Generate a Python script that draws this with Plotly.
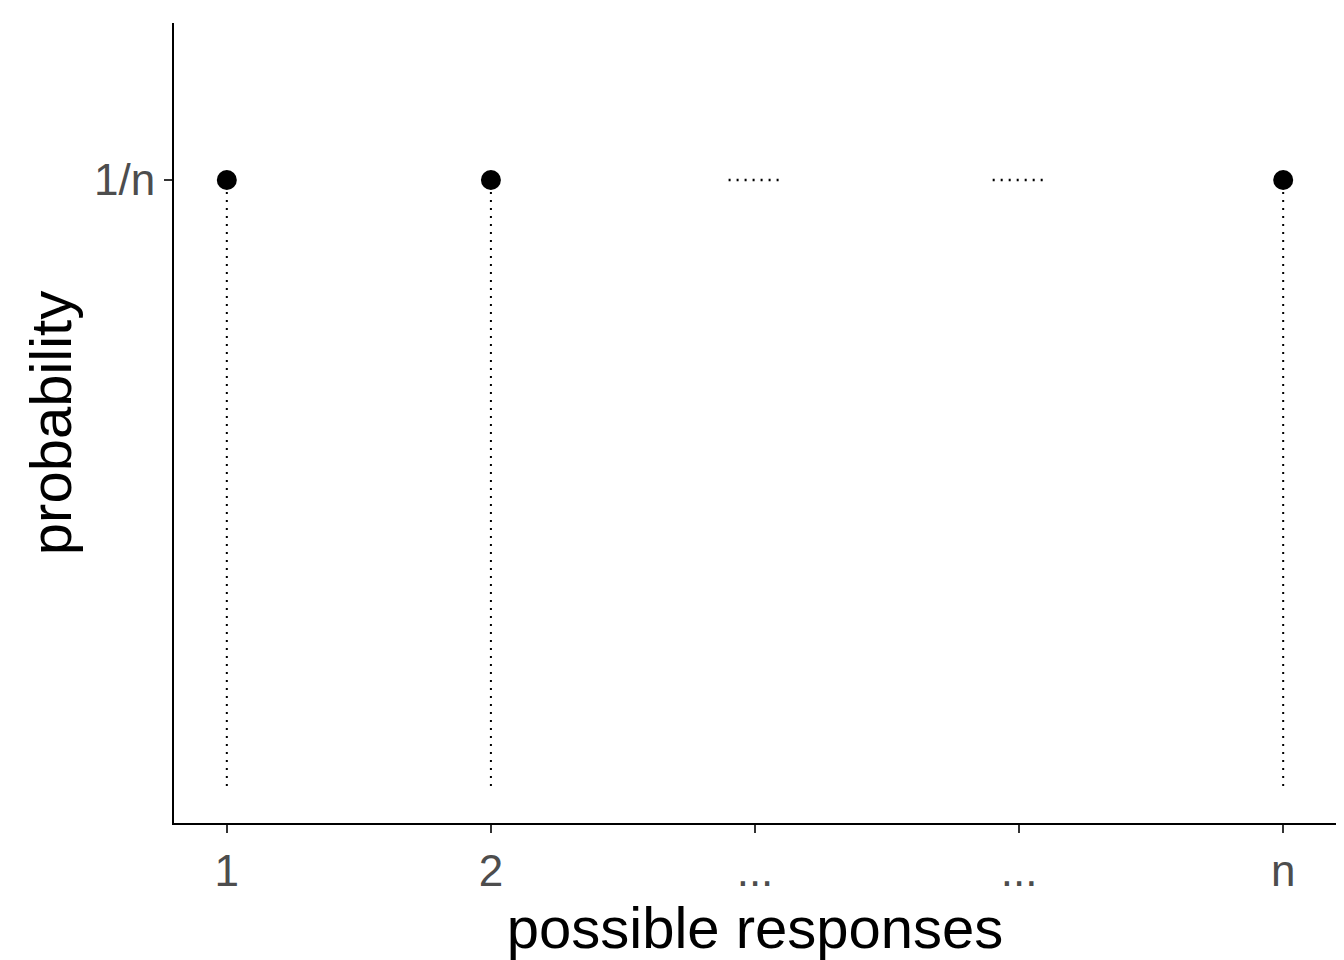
import plotly.graph_objects as go

x_pos = [1, 2, 3, 4, 5]
tick_labels = ["1", "2", "...", "...", "n"]
point_x = [1, 2, 5]
prob = 0.2
dots_x = [3, 4]

fig = go.Figure()
for x in point_x:
    fig.add_trace(go.Scatter(x=[x, x], y=[0, prob], mode="lines",
                             line=dict(color="black", width=2, dash="2px,6px"), showlegend=False))
for x in dots_x:
    fig.add_trace(go.Scatter(x=[x - 0.1, x + 0.1], y=[prob, prob], mode="lines",
                             line=dict(color="black", width=2.5, dash="2px,6px"), showlegend=False))
fig.add_trace(go.Scatter(x=point_x, y=[prob] * len(point_x), mode="markers",
                         marker=dict(color="black", size=20), showlegend=False))

fig.update_layout(
    width=1344, height=960, plot_bgcolor="white", paper_bgcolor="white",
    margin=dict(l=166, r=16, t=15, b=145, autoexpand=False),
    font=dict(family="Liberation Sans, Arial, sans-serif"),
    xaxis=dict(range=[0.8, 5.2], tickvals=x_pos, ticktext=tick_labels, automargin=False,
               showgrid=False, zeroline=False, showline=True, linecolor="black", linewidth=2,
               ticks="outside", ticklen=8, tickcolor="#333", tickwidth=2,
               tickfont=dict(size=44, color="#4d4d4d"),
               title=dict(text="possible responses", font=dict(size=58, color="black"), standoff=4)),
    yaxis=dict(range=[-0.0122, 0.2518], tickvals=[prob], ticktext=["1/n"], automargin=False,
               showgrid=False, zeroline=False, showline=True, linecolor="black", linewidth=2,
               ticks="outside", ticklen=8, tickcolor="#333", tickwidth=2,
               tickfont=dict(size=44, color="#4d4d4d"),
               title=dict(text="probability", font=dict(size=58, color="black"), standoff=4)),
)
fig.write_html("out.html")
